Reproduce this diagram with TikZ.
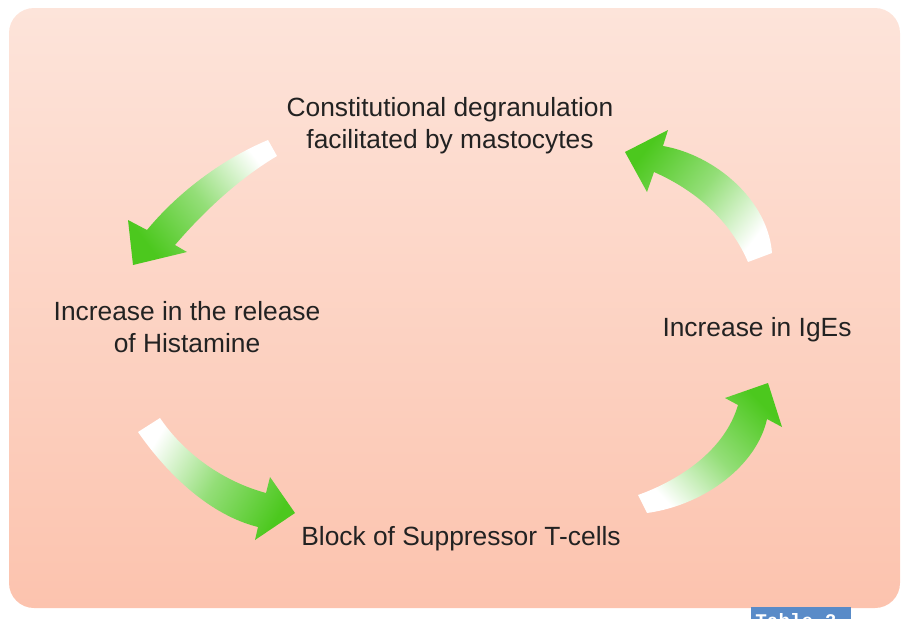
\documentclass[tikz,border=0pt]{standalone}
\usepackage{fontspec}
\setmainfont{Liberation Sans}
\newfontfamily\tabfont{Liberation Mono}
\definecolor{bgtop}{RGB}{253,228,218}
\definecolor{bgbottom}{RGB}{252,195,174}
\definecolor{arrowgreen}{RGB}{76,200,30}
\definecolor{textgray}{RGB}{34,34,34}
\definecolor{tabblue}{RGB}{89,139,200}
\tikzset{
	steplabel/.style = {align = center, text = textgray, inner sep = 0pt, font = \fontsize{15}{18.2}\selectfont},
	cyclearrow/.style = {bottom color = white, top color = arrowgreen, middle color = arrowgreen!60!white}
}
\begin{document}
\begin{tikzpicture}[x = 0.02cm, y = -0.02cm]
	\useasboundingbox (0, 0) rectangle (907, 619);
	\shade[top color = bgtop, bottom color = bgbottom, rounded corners = 0.5cm] (9, 8) rectangle (900, 608);
	\node (degran) at (450, 126)	[steplabel]	{Constitutional degranulation\\facilitated by mastocytes};
	\node (histamine) at (187, 327)	[steplabel]	{Increase in the release\\of Histamine};
	\node (suppressor) at (461, 545)	[steplabel, anchor = base]	{Block of Suppressor T-cells};
	\node (ige) at (757, 336)	[steplabel, anchor = base]	{Increase in IgEs};
	% curved arrows of the cycle
	\shade[cyclearrow, shading angle = 128] (268, 140) .. controls (225, 158) and (180, 190) .. (147, 230) -- (128, 220) -- (133, 265) -- (187, 252) -- (175, 245) .. controls (205, 210) and (240, 178) .. (277, 156) -- cycle;
	\shade[cyclearrow, shading angle = -121] (160, 418) .. controls (185, 455) and (225, 482) .. (266, 493) -- (270, 477) -- (295, 513) -- (255, 540) -- (258, 527) .. controls (210, 515) and (168, 475) .. (138, 432) -- cycle;
	\shade[cyclearrow, shading angle = -46] (638, 495) .. controls (680, 480) and (725, 450) .. (738, 405) -- (725, 398) -- (768, 383) -- (782, 427) -- (767, 419) .. controls (757, 465) and (705, 505) .. (647, 513) -- cycle;
	\shade[cyclearrow, shading angle = 52] (772, 253) .. controls (768, 200) and (715, 155) .. (663, 146) -- (668, 130) -- (625, 152) -- (647, 192) -- (654, 172) .. controls (695, 190) and (730, 220) .. (748, 262) -- cycle;
	% table tab, cut by the page edge
	\begin{scope}
		\clip (0, 0) rectangle (907, 619);
		\fill[tabblue] (751, 607) rectangle (851, 630);
		\node (tabletitle) at (755, 613)	[anchor = north west, inner sep = 0pt, text = white, font = \tabfont\bfseries\fontsize{11}{13}\selectfont]	{Table 2};
	\end{scope}
\end{tikzpicture}
\end{document}
